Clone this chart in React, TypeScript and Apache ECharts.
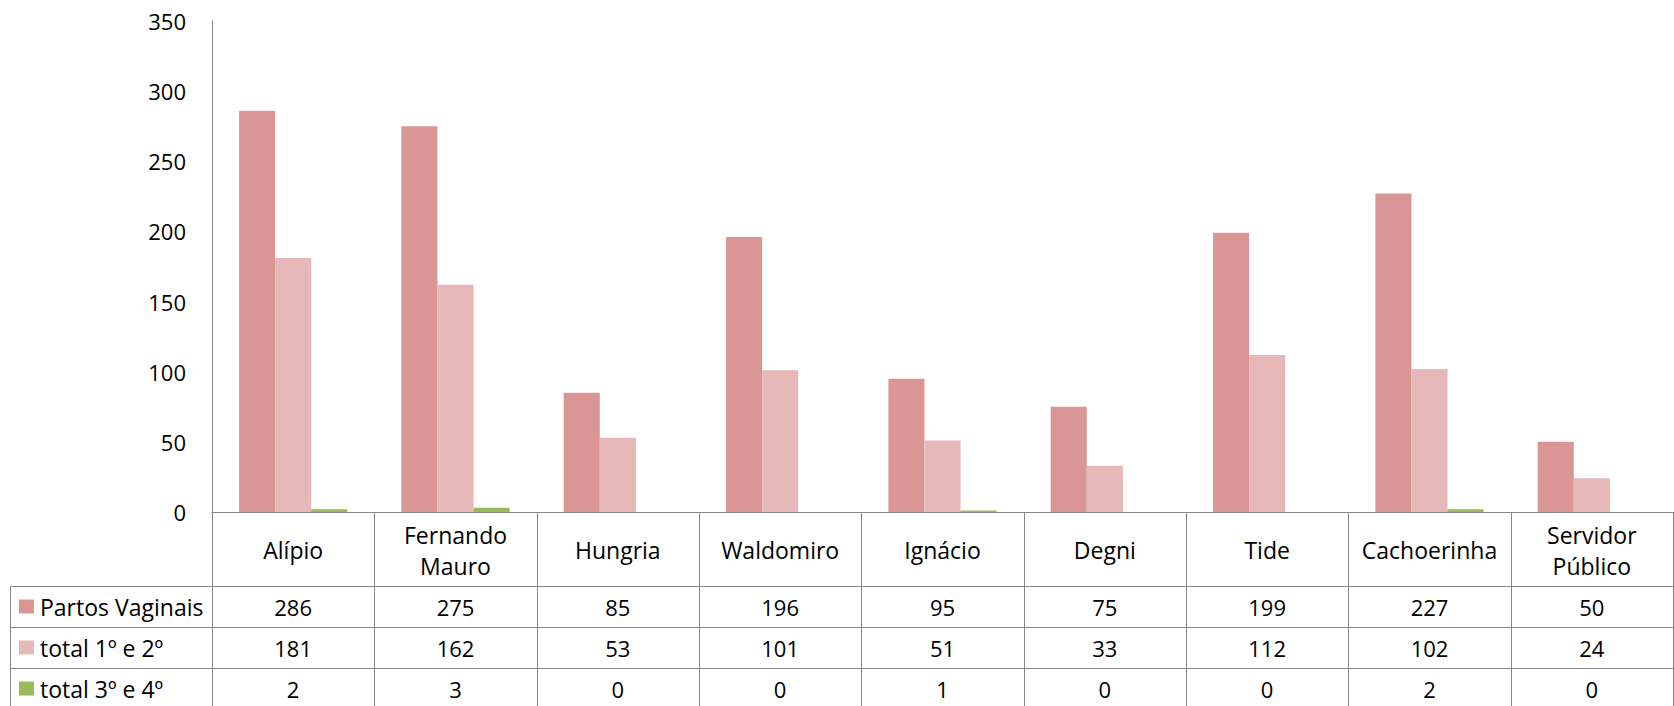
import React, { useEffect, useRef } from "react";
import * as echarts from "echarts";

const categories = [
  "Alípio",
  "Fernando\nMauro",
  "Hungria",
  "Waldomiro",
  "Ignácio",
  "Degni",
  "Tide",
  "Cachoerinha",
  "Servidor\nPúblico",
];
const seriesNames = ["Partos Vaginais", "total 1º e 2º", "total 3º e 4º"];
const partosVaginais = [286, 275, 85, 196, 95, 75, 199, 227, 50];
const total1e2 = [181, 162, 53, 101, 51, 33, 112, 102, 24];
const total3e4 = [2, 3, 0, 0, 1, 0, 0, 2, 0];
const seriesColors = ["#D99694", "#E6B9B8", "#9BBB59"];
const yMin = 0;
const yMax = 350;
const yInterval = 50;

const FONT = "'Open Sans', Lato, sans-serif";
const LINE = "#878787";

export default function App() {
  const ref = useRef<HTMLDivElement>(null);
  useEffect(() => {
    document.body.style.margin = "0";
    if (!ref.current) return;
    const chart = echarts.init(ref.current, undefined, { renderer: "svg" });
    const seriesData = [partosVaginais, total1e2, total3e4];
    chart.setOption({
      animation: false,
      backgroundColor: "#ffffff",
      textStyle: { fontFamily: FONT },
      grid: { left: 212, right: 1, top: 21, bottom: 194, containLabel: false },
      xAxis: {
        type: "category",
        data: categories,
        axisLine: { show: true, lineStyle: { color: LINE, width: 1 } },
        axisTick: { show: false },
        axisLabel: {
          show: true,
          interval: 0,
          color: "#000",
          fontFamily: FONT,
          fontSize: 23,
          lineHeight: 31,
          margin: 38,
          verticalAlign: "middle",
        },
        splitLine: { show: false },
      },
      yAxis: {
        type: "value",
        min: yMin,
        max: yMax,
        interval: yInterval,
        axisLine: { show: true, lineStyle: { color: LINE, width: 1 } },
        axisTick: { show: false },
        splitLine: { show: false },
        axisLabel: { color: "#000", fontFamily: FONT, fontSize: 22, margin: 26 },
      },
      series: seriesNames.map((name, i) => ({
        name,
        type: "bar",
        data: seriesData[i],
        barGap: "0%",
        barCategoryGap: "33.3%",
        itemStyle: { color: seriesColors[i] },
      })),
    });

    // Table drawn under the chart, positioned by the library's own scales
    const c0 = chart.convertToPixel({ xAxisIndex: 0 }, 0) as number;
    const c1 = chart.convertToPixel({ xAxisIndex: 0 }, 1) as number;
    const band = c1 - c0;
    const y0 = chart.convertToPixel({ yAxisIndex: 0 }, 0) as number;
    const leftX = c0 - band / 2;
    const rightX = leftX + band * categories.length;
    const headerH = 74;
    const rowH = 41;
    const tableLeft = 10;
    const rowTops = [y0 + headerH, y0 + headerH + rowH, y0 + headerH + 2 * rowH];
    const bottom = y0 + headerH + 3 * rowH;
    const graphics: any[] = [];
    const ls = { stroke: LINE, lineWidth: 1 };
    // vertical lines
    for (let i = 0; i <= categories.length; i++) {
      const x = Math.round(leftX + band * i) + 0.5;
      graphics.push({ type: "line", shape: { x1: x, y1: y0, x2: x, y2: bottom }, style: ls, silent: true });
    }
    graphics.push({
      type: "line",
      shape: { x1: tableLeft + 0.5, y1: rowTops[0], x2: tableLeft + 0.5, y2: bottom },
      style: ls,
      silent: true,
    });
    // horizontal lines
    rowTops.forEach((y) => {
      const yy = Math.round(y) + 0.5;
      graphics.push({ type: "line", shape: { x1: tableLeft, y1: yy, x2: rightX, y2: yy }, style: ls, silent: true });
    });
    graphics.push({
      type: "line",
      shape: { x1: tableLeft, y1: Math.round(bottom) + 0.5, x2: rightX, y2: Math.round(bottom) + 0.5 },
      style: ls,
      silent: true,
    });
    // row labels and values
    seriesNames.forEach((name, r) => {
      const cy = rowTops[r] + rowH / 2;
      graphics.push({
        type: "rect",
        shape: { x: 19, y: cy - 7, width: 15, height: 14 },
        style: { fill: seriesColors[r] },
        silent: true,
      });
      graphics.push({
        type: "text",
        x: 40,
        y: cy,
        style: { text: name, fill: "#000", font: `23px ${FONT}`, textAlign: "left", textVerticalAlign: "middle" },
        silent: true,
      });
      seriesData[r].forEach((v, i) => {
        const cx = chart.convertToPixel({ xAxisIndex: 0 }, i) as number;
        graphics.push({
          type: "text",
          x: cx,
          y: cy,
          style: { text: String(v), fill: "#000", font: `22px ${FONT}`, textAlign: "center", textVerticalAlign: "middle" },
          silent: true,
        });
      });
    });
    chart.setOption({ graphic: { elements: graphics } });
    return () => chart.dispose();
  }, []);
  return <div ref={ref} style={{ width: 1674, height: 706 }} />;
}
